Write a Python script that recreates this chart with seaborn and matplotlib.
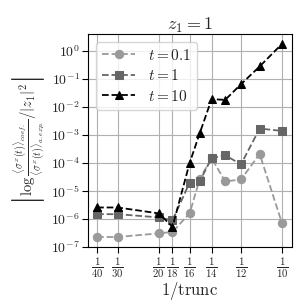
import numpy as np
import pandas as pd
import seaborn as sns
import matplotlib.pyplot as plt

# truncation values and errors
trunc = [40, 30, 20, 18, 16, 15, 14, 13, 12, 11, 10]
err_t01 = [2.3e-7, 2.3e-7, 3.1e-7, 3.5e-7, 1.6e-6, 2.8e-5, 1.5e-4, 2.2e-5, 2.6e-5, 2.1e-4, 7e-7]
err_t1 = [1.5e-6, 1.5e-6, 1.15e-6, 9e-7, 2e-5, 2.3e-5, 1.5e-4, 1.9e-4, 9e-5, 1.7e-3, 1.4e-3]
err_t10 = [2.6e-6, 2.6e-6, 1.6e-6, 5.3e-7, 1.0e-4, 1.2e-3, 1.9e-2, 1.8e-2, 6.5e-2, 0.28, 1.8]
tick_trunc = [40, 30, 20, 18, 16, 14, 12, 10]

sns.set_style("whitegrid")
plt.rcParams['font.family'] = ['DejaVu Serif']
plt.rcParams['mathtext.fontset'] = 'cm'

fig = plt.figure(figsize=(3.07, 3.07), dpi=100)
ax = fig.add_axes([0.287, 0.195, 0.664, 0.694])

series = [
    ("$t=0.1$", err_t01, "o", "#9a9a9a"),
    ("$t=1$", err_t1, "s", "#666666"),
    ("$t=10$", err_t10, "^", "black"),
]
x = 1.0 / np.array(trunc)
for label, vals, mk, col in series:
    sns.lineplot(x=x, y=vals, ax=ax, marker=mk, color=col, linestyle="--",
                 markersize=6, markeredgecolor=col, label=label, linewidth=1.3)

ax.set_yscale("log")
ax.set_ylim(1e-7, 4)
ax.set_xlim(0.02135, 0.104)
ax.set_xticks(1.0 / np.array(tick_trunc))
ax.set_xticklabels([r"$\frac{1}{%d}$" % n for n in tick_trunc], fontsize=11)
ax.set_yticks([10.0 ** k for k in range(-7, 1)])
ax.set_yticklabels([r"$10^{%d}$" % k for k in range(-7, 1)], fontsize=10)
ax.minorticks_off()
ax.tick_params(axis="both", direction="out", length=4, width=0.8, color="black", left=True, bottom=True, pad=2)
for s in ax.spines.values():
    s.set_color("black")
    s.set_linewidth(0.8)
ax.grid(True, color="#b0b0b0", linewidth=0.8)

ax.set_title("$z_1 = 1$", fontsize=13, pad=3)
ax.set_xlabel(r"$1/\mathrm{trunc}$", fontsize=12, labelpad=0)
ax.set_ylabel(r"$\left|\log\frac{\langle\sigma^x(t)\rangle_{coef.}}{\langle\sigma^x(t)\rangle_{a.exp.}}/|z_1|^2\right|$",
              fontsize=10.5)
ax.yaxis.set_label_coords(-0.2, 0.5)

leg = ax.legend(loc="upper left", fontsize=11, handlelength=2.2, borderpad=0.4,
                labelspacing=0.35, frameon=True)
leg.get_frame().set_edgecolor("#cccccc")

fig.savefig("out.png", dpi=100)
